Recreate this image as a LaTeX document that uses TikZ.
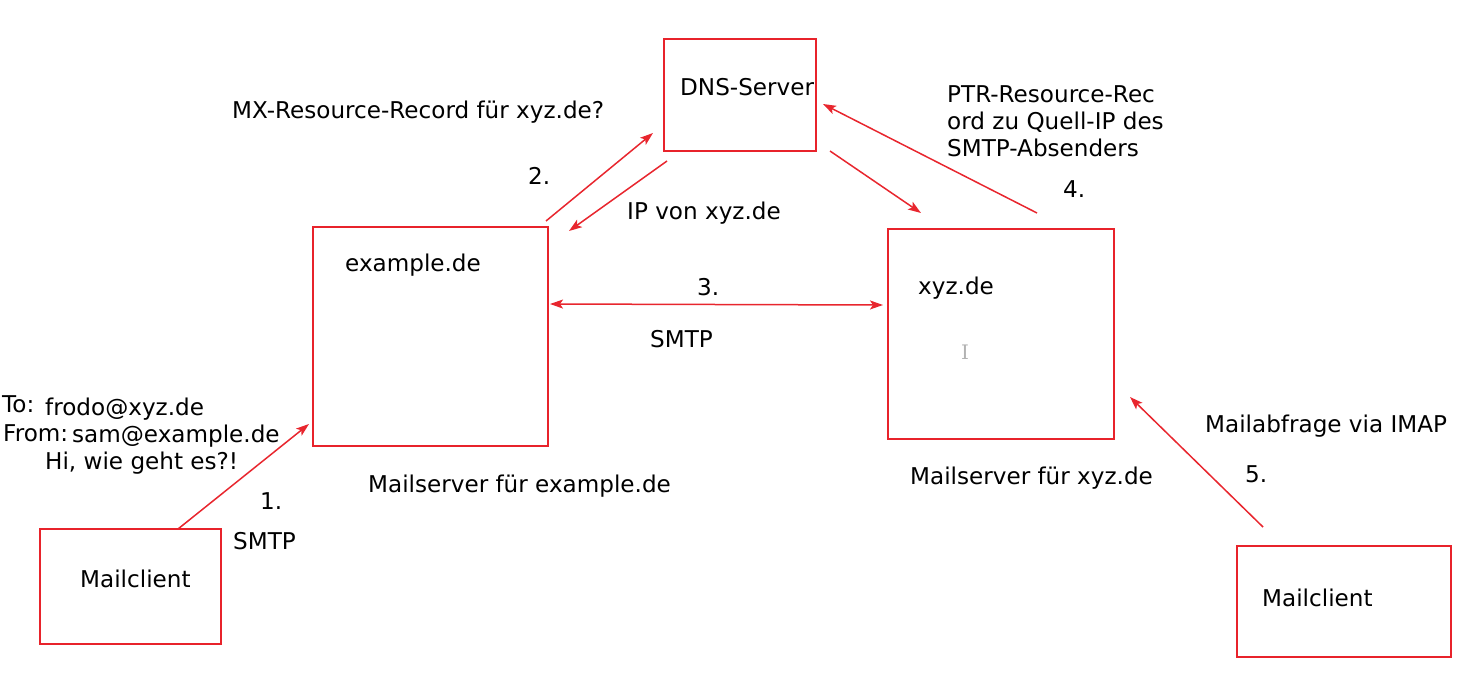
\documentclass[tikz,border=0pt]{standalone}
\usepackage{fontspec}
\setmainfont{DejaVu Sans}
\newfontfamily\cursorfont{DejaVu Serif}
\usetikzlibrary{arrows.meta}
\definecolor{boxred}{HTML}{E8232B}
\definecolor{arrred}{HTML}{E8262E}
\tikzset{
  srvbox/.style={draw=boxred, line width=1.8pt, inner sep=0pt, minimum width=#1},
  lbl/.style={anchor=base west, inner sep=0pt, font=\fontsize{23.1}{27}\selectfont, align=left},
  flow/.style={draw=arrred, line width=1.5pt, -{Stealth[length=13pt,width=9pt,inset=3pt]}},
  flowboth/.style={draw=arrred, line width=1.5pt, {Stealth[length=13pt,width=9pt,inset=3pt]}-{Stealth[length=13pt,width=9pt,inset=3pt]}},
}
\begin{document}
\begin{tikzpicture}[x=1pt,y=-1pt]
\useasboundingbox (0,0) rectangle (1478,699);
% boxes
\node[srvbox=152pt, minimum height=112pt] (dns) at (740,95) {};
\node[srvbox=235pt, minimum height=219pt] (ex) at (430.5,336.5) {};
\node[srvbox=226pt, minimum height=210pt] (xyz) at (1001,334) {};
\node[srvbox=181pt, minimum height=115pt] (mc1) at (130.5,586.5) {};
\node[srvbox=214pt, minimum height=111pt] (mc2) at (1344,601.5) {};
% labels
\node[lbl] (tdns) at (680,95) {DNS-Server};
\node[lbl] (tex) at (345,271) {example.de};
\node[lbl] (txyz) at (918,294) {xyz.de};
\node[anchor=base, inner sep=0pt, text=gray!60, font=\cursorfont\fontsize{20}{20}\selectfont] (cur) at (965,359) {I};
\node[lbl] (tmc1) at (80,587) {Mailclient};
\node[lbl] (tmc2) at (1262,606) {Mailclient};
\node[lbl] (tmx) at (232,118) {MX-Resource-Record für xyz.de?};
\node[lbl] (t2) at (528,184) {2.};
\node[lbl] (tip) at (627,219) {IP von xyz.de};
\node[lbl] (tptr) at (947,156) {PTR-Resource-Rec\\ord zu Quell-IP des\\SMTP-Absenders};
\node[lbl] (t4) at (1063,197) {4.};
\node[lbl] (t3) at (697,295) {3.};
\node[lbl] (tsmtp3) at (650,347) {SMTP};
\node[lbl] (tto) at (2,412) {To:};
\node[lbl] (tfrodo) at (45,415) {frodo@xyz.de};
\node[lbl] (tfrom) at (3,441) {From:};
\node[lbl] (tsam) at (72,442) {sam@example.de};
\node[lbl] (thi) at (45,469) {Hi, wie geht es?!};
\node[lbl] (tmsex) at (368,492) {Mailserver für example.de};
\node[lbl] (tmsxyz) at (910,484) {Mailserver für xyz.de};
\node[lbl] (timap) at (1205,432) {Mailabfrage via IMAP};
\node[lbl] (t5) at (1245,482) {5.};
\node[lbl] (t1) at (260,509) {1.};
\node[lbl] (tsmtp1) at (233,549) {SMTP};
% connector end points
\coordinate (a1s) at (178,529);
\coordinate (a1e) at (309,424);
\coordinate (a2s) at (546,221);
\coordinate (a2e) at (653,133);
\coordinate (b2s) at (667,161);
\coordinate (b2e) at (569,231);
\coordinate (a3s) at (550,304);
\coordinate (a3e) at (883,305);
\coordinate (a4s) at (830,151);
\coordinate (a4e) at (921,213);
\coordinate (b4s) at (1037,213);
\coordinate (b4e) at (823,104);
\coordinate (a5s) at (1263,527);
\coordinate (a5e) at (1130,397);
% connectors
\draw[flow] (a1s) -- (a1e);
\draw[flow] (a2s) -- (a2e);
\draw[flow] (b2s) -- (b2e);
\draw[flowboth] (a3s) -- (a3e);
\draw[flow] (a4s) -- (a4e);
\draw[flow] (b4s) -- (b4e);
\draw[flow] (a5s) -- (a5e);
\end{tikzpicture}
\end{document}
